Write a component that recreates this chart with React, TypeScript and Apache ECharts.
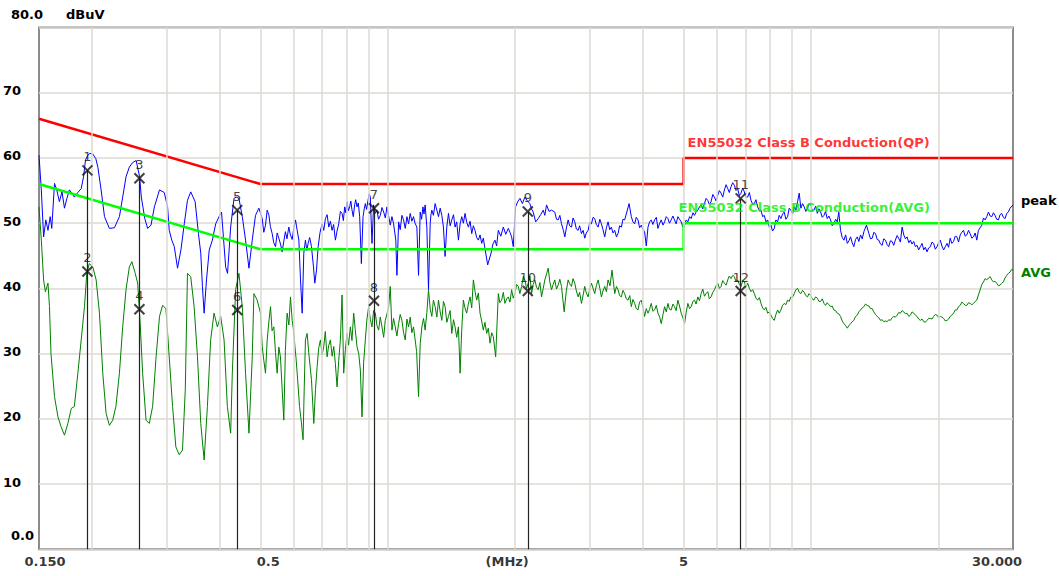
import React, { useEffect, useRef } from 'react';
import * as echarts from 'echarts';

const FONT = "'DejaVu Sans', 'Liberation Sans', sans-serif";

// ---- limit lines (EN55032 class B, conducted) ----
const QP_LIMIT: number[][] = [[0.15, 66], [0.5, 56], [5, 56], [5, 60], [30, 60]];
const AVG_LIMIT: number[][] = [[0.15, 56], [0.5, 46], [5, 46], [5, 50], [30, 50]];
const QP_LIMIT_NAME = 'EN55032 Class B Conduction(QP)';
const AVG_LIMIT_NAME = 'EN55032 Class B Conduction(AVG)';

// ---- measured traces [MHz, dBuV] ----
const PEAK_TRACE: number[][] = [
  [0.15, 60.4], [0.1519, 55.1], [0.1538, 47.9], [0.1557, 50.5], [0.1575, 48.9], [0.1594, 51.0],
  [0.1608, 49.2], [0.1632, 56.1], [0.1652, 55.1], [0.1676, 53.3], [0.17, 54.8], [0.1723, 52.3],
  [0.1746, 53.8], [0.1769, 55.1], [0.1795, 54.6], [0.1818, 54.0], [0.1853, 54.7], [0.1887, 55.3],
  [0.1911, 57.1], [0.1932, 59.7], [0.1956, 60.4], [0.1977, 60.7], [0.201, 60.6], [0.2043, 59.9],
  [0.2066, 58.6], [0.2103, 55.1], [0.2142, 51.0], [0.22, 49.2], [0.2261, 49.3], [0.2323, 51.0],
  [0.2365, 54.0], [0.2408, 57.1], [0.2452, 58.6], [0.2497, 59.3], [0.2545, 59.6], [0.2593, 57.1],
  [0.2617, 54.0], [0.2667, 50.7], [0.2709, 49.2], [0.2759, 49.7], [0.281, 52.5], [0.2889, 55.1],
  [0.2965, 54.7], [0.3019, 52.5], [0.3046, 48.9], [0.3089, 47.4], [0.3131, 46.4], [0.3187, 43.1],
  [0.3246, 45.9], [0.3306, 49.9], [0.3364, 53.5], [0.3424, 54.8], [0.3507, 53.3], [0.3571, 48.4],
  [0.3616, 45.4], [0.3649, 40.3], [0.3683, 36.2], [0.3731, 41.3], [0.3787, 45.9], [0.3852, 47.4],
  [0.3922, 49.9], [0.3994, 51.0], [0.4049, 51.7], [0.409, 47.9], [0.414, 43.3], [0.4183, 42.3],
  [0.4255, 49.4], [0.4333, 53.8], [0.4384, 54.0], [0.4451, 53.8], [0.4533, 51.0], [0.4614, 47.4],
  [0.47, 43.1], [0.4785, 47.4], [0.487, 51.2], [0.4961, 52.3],
  [0.5052, 50.7], [0.5095, 48.6], [0.5143, 49.7], [0.519, 52.0], [0.5239, 51.2], [0.528, 49.5],
  [0.5333, 48.4], [0.538, 47.0], [0.5431, 46.4], [0.548, 48.5], [0.5529, 47.7], [0.558, 46.8],
  [0.563, 45.6], [0.568, 47.2], [0.5731, 48.7], [0.578, 47.6], [0.5837, 49.4], [0.589, 48.2],
  [0.5946, 47.5], [0.6, 49.3], [0.6054, 50.5], [0.611, 48.9], [0.6166, 47.4], [0.6222, 41.3],
  [0.6278, 36.2], [0.6334, 45.4], [0.6391, 47.4], [0.644, 45.8], [0.6485, 46.9], [0.654, 47.8],
  [0.6604, 46.4], [0.6676, 43.3], [0.6725, 40.8], [0.6787, 42.8], [0.6848, 46.4], [0.692, 48.6],
  [0.6997, 49.9], [0.706, 48.9], [0.7124, 50.7], [0.719, 51.3], [0.7256, 49.4], [0.732, 50.3],
  [0.7387, 48.9], [0.745, 49.8], [0.7522, 47.4], [0.759, 48.8], [0.766, 49.9], [0.773, 51.8],
  [0.7799, 51.5], [0.7855, 50.4], [0.7912, 52.5], [0.796, 51.6], [0.8013, 53.3], [0.807, 51.9],
  [0.8131, 52.5], [0.818, 53.4], [0.8234, 52.0], [0.829, 51.0], [0.8353, 52.8], [0.84, 53.6],
  [0.846, 52.5], [0.852, 53.1], [0.8584, 51.0], [0.8663, 43.8], [0.8742, 51.0], [0.88, 52.2],
  [0.8851, 53.0], [0.891, 52.1], [0.8982, 53.5], [0.904, 54.5], [0.9096, 54.0], [0.9178, 46.9],
  [0.9261, 52.8], [0.934, 51.5], [0.9431, 52.0], [0.951, 50.6], [0.9604, 51.2], [0.969, 52.4],
  [0.9781, 51.7], [0.987, 50.8], [0.9957, 52.5], [1.004, 51.2], [1.0137, 49.7], [1.023, 51.0],
  [1.0323, 49.9], [1.0447, 47.4], [1.0512, 42.0], [1.0608, 50.2], [1.07, 49.0], [1.08, 51.2],
  [1.0897, 50.5], [1.1, 49.2], [1.11, 51.0], [1.1199, 49.9], [1.13, 51.5], [1.14, 50.3],
  [1.1505, 51.0], [1.16, 50.0], [1.1716, 49.4], [1.1823, 42.0], [1.193, 51.7], [1.202, 50.6],
  [1.2109, 52.5], [1.218, 51.4], [1.2256, 52.8], [1.2369, 49.4], [1.2482, 39.8], [1.2596, 49.9],
  [1.265, 51.3], [1.271, 52.0], [1.282, 51.2], [1.294, 53.0], [1.306, 52.0], [1.3179, 51.0],
  [1.33, 52.3], [1.3418, 51.2], [1.3539, 49.4], [1.3661, 44.9], [1.3787, 49.4], [1.3913, 51.5],
  [1.404, 49.6], [1.4166, 50.5], [1.43, 51.3], [1.4422, 49.4], [1.455, 50.2], [1.4688, 47.4],
  [1.4822, 49.9], [1.4956, 51.0], [1.509, 50.0], [1.5226, 51.5], [1.537, 50.1], [1.5507, 49.4],
  [1.565, 50.3], [1.579, 48.4], [1.593, 49.6], [1.6075, 48.9], [1.622, 47.8], [1.6372, 47.4],
  [1.652, 48.2], [1.667, 46.9], [1.682, 47.7], [1.6971, 46.1], [1.7222, 43.6], [1.7538, 45.4],
  [1.772, 46.8], [1.7917, 47.4], [1.808, 46.5], [1.8248, 48.9], [1.85, 48.0], [1.8749, 49.4],
  [1.9, 48.3], [1.9265, 49.2], [1.944, 48.6], [1.9617, 47.9], [1.9794, 46.4], [2.0044, 52.5],
  [2.028, 53.3], [2.0528, 53.8], [2.08, 53.0], [2.1085, 54.0], [2.137, 53.4], [2.1663, 53.0],
  [2.186, 52.2], [2.206, 51.7], [2.236, 50.2], [2.267, 50.7], [2.298, 51.3], [2.3296, 52.0],
  [2.35, 51.2], [2.372, 52.8], [2.405, 51.8], [2.4372, 52.0],
  [2.481, 51.7], [2.504, 50.6], [2.527, 50.5], [2.55, 51.2], [2.573, 49.9], [2.6, 48.9],
  [2.62, 47.9], [2.645, 49.4], [2.668, 50.5], [2.69, 49.6], [2.717, 49.4], [2.74, 50.8],
  [2.766, 50.2], [2.79, 49.1], [2.817, 48.9], [2.84, 49.6], [2.868, 48.4], [2.895, 48.9],
  [2.92, 47.7], [2.945, 48.5], [2.974, 48.9], [3.0, 50.1], [3.028, 49.9], [3.055, 50.9],
  [3.083, 50.7], [3.11, 49.8], [3.14, 49.4], [3.17, 50.6], [3.197, 49.9], [3.225, 49.0],
  [3.255, 47.9], [3.285, 49.3], [3.315, 50.2], [3.345, 49.0], [3.375, 49.4], [3.405, 48.5],
  [3.437, 48.9], [3.47, 47.9], [3.5, 48.4], [3.53, 49.6], [3.563, 49.4], [3.595, 50.6],
  [3.628, 50.5], [3.66, 51.4], [3.717, 53.0], [3.762, 51.0], [3.795, 50.2], [3.831, 49.9],
  [3.865, 50.9], [3.901, 50.5], [3.935, 49.3], [3.972, 49.7], [4.01, 49.0], [4.044, 48.7],
  [4.081, 46.5], [4.119, 49.4], [4.155, 50.2], [4.193, 50.5], [4.23, 49.8], [4.27, 50.5],
  [4.31, 50.9], [4.348, 49.2], [4.39, 50.0], [4.427, 50.5], [4.47, 49.7], [4.508, 50.2],
  [4.55, 51.0], [4.591, 50.7], [4.63, 50.0], [4.674, 50.5], [4.715, 51.1], [4.759, 50.5],
  [4.8, 49.9], [4.847, 51.0], [4.89, 50.6], [4.935, 50.2], [4.98, 49.4], [5.025, 49.7],
  [5.07, 50.5], [5.117, 50.2], [5.165, 51.0], [5.21, 50.7], [5.26, 51.6], [5.305, 51.2],
  [5.35, 51.7], [5.402, 52.0], [5.45, 52.5], [5.5, 52.8], [5.55, 52.2], [5.6, 53.0],
  [5.65, 53.8], [5.703, 53.5], [5.75, 52.9], [5.806, 53.3], [5.86, 54.4], [5.912, 54.0],
  [5.965, 53.4], [6.02, 54.3], [6.075, 55.0], [6.13, 54.6], [6.185, 54.0], [6.242, 55.1],
  [6.3, 55.9], [6.356, 55.3], [6.41, 54.7], [6.472, 55.6], [6.53, 56.2], [6.59, 55.8],
  [6.65, 55.0], [6.71, 55.3], [6.77, 54.2], [6.833, 54.6], [6.895, 55.4], [6.957, 54.8],
  [7.02, 54.0], [7.085, 54.0], [7.15, 54.7], [7.214, 53.5], [7.28, 52.9], [7.345, 53.0],
  [7.41, 53.6], [7.48, 52.5], [7.55, 51.9], [7.616, 52.0], [7.685, 51.0], [7.755, 51.2],
  [7.825, 50.2], [7.897, 50.5], [7.97, 49.4], [8.041, 49.7], [8.11, 48.8], [8.187, 49.2],
  [8.26, 50.5], [8.337, 50.2], [8.41, 51.2],
  [8.489, 50.7], [8.565, 51.4], [8.643, 51.7], [8.72, 50.6], [8.803, 51.0], [8.88, 52.3],
  [8.962, 52.0], [9.04, 51.4], [9.125, 52.5], [9.21, 52.0], [9.294, 53.3], [9.377, 54.6],
  [9.462, 52.3], [9.55, 53.0], [9.634, 52.5], [9.72, 51.8], [9.81, 52.3], [9.89, 53.0],
  [9.978, 52.8], [10.07, 51.9], [10.16, 52.0], [10.25, 52.6], [10.35, 51.5], [10.44, 52.2],
  [10.535, 51.7], [10.63, 50.9], [10.73, 51.2], [10.82, 51.8], [10.92, 50.7], [11.02, 51.1],
  [11.12, 50.5], [11.22, 49.6], [11.32, 49.9], [11.43, 50.6], [11.53, 50.2], [11.63, 51.7],
  [11.74, 48.9], [11.85, 47.8], [11.96, 47.4], [12.07, 48.2], [12.18, 46.9], [12.29, 47.3],
  [12.4, 47.9], [12.51, 47.0], [12.62, 46.4], [12.74, 47.5], [12.86, 47.9], [12.97, 47.2],
  [13.09, 48.2], [13.21, 47.6], [13.33, 48.7], [13.52, 49.7], [13.7, 48.4], [13.82, 47.6],
  [13.95, 47.7], [14.07, 48.6], [14.2, 48.4], [14.33, 47.5], [14.46, 47.4], [14.59, 46.8],
  [14.72, 46.6], [14.85, 47.6], [14.99, 47.4], [15.13, 46.7], [15.26, 46.4], [15.4, 47.3],
  [15.54, 47.2], [15.68, 46.6], [15.82, 47.4], [15.97, 48.1], [16.11, 47.7], [16.26, 47.1],
  [16.41, 49.4], [16.56, 48.2], [16.71, 47.6], [16.86, 47.9], [17.02, 47.0], [17.17, 47.4],
  [17.32, 46.8], [17.48, 47.2], [17.64, 46.4], [17.8, 46.6], [17.96, 45.9], [18.12, 46.4],
  [18.29, 46.9], [18.46, 45.9], [18.62, 46.3], [18.79, 45.6], [18.96, 46.2], [19.14, 46.4],
  [19.31, 47.1], [19.48, 46.9], [19.66, 46.0], [19.84, 46.4], [20.02, 47.0], [20.2, 47.4],
  [20.38, 46.5], [20.57, 45.9], [20.76, 46.4], [20.95, 46.9], [21.13, 46.3], [21.32, 47.7],
  [21.51, 46.9], [21.71, 47.2], [21.91, 48.0], [22.11, 47.9], [22.31, 47.1], [22.51, 48.2],
  [22.71, 48.6], [22.92, 48.9], [23.13, 48.0], [23.34, 48.2], [23.55, 48.9], [23.76, 48.4],
  [23.98, 47.7], [24.2, 47.9], [24.42, 48.5], [24.64, 47.4], [24.86, 48.9], [25.09, 49.3],
  [25.32, 49.7], [25.55, 50.8], [25.78, 50.5], [26.01, 51.0], [26.25, 51.7], [26.49, 51.1],
  [26.73, 51.0], [26.97, 51.6], [27.21, 51.2], [27.46, 50.6], [27.71, 50.5], [27.96, 51.3],
  [28.21, 51.5], [28.47, 50.9], [28.73, 50.7], [28.99, 51.5], [29.25, 51.7], [29.52, 52.3],
  [30, 52.8],
];

const AVG_TRACE: number[][] = [
  [0.15, 52.5], [0.1519, 47.4], [0.1538, 41.3], [0.1553, 39.5], [0.1575, 40.8], [0.1588, 37.2],
  [0.1601, 30.0], [0.1632, 23.4], [0.1663, 20.3], [0.1691, 18.8], [0.1723, 17.5], [0.1755, 19.3],
  [0.1788, 21.6], [0.1818, 21.9], [0.1853, 27.0], [0.1887, 32.1], [0.1921, 37.2], [0.1945, 42.3],
  [0.1972, 43.8], [0.201, 43.3], [0.2047, 41.3], [0.2084, 36.2], [0.2122, 27.0], [0.2161, 20.8],
  [0.22, 19.0], [0.224, 19.8], [0.2279, 21.9], [0.2323, 27.0], [0.2365, 34.1], [0.2408, 39.8],
  [0.2452, 43.3], [0.2486, 44.1], [0.2532, 42.3], [0.2566, 40.8], [0.2601, 34.6], [0.2636, 27.0],
  [0.2685, 19.8], [0.2733, 19.3], [0.2783, 21.9], [0.2836, 29.5], [0.2889, 35.7], [0.2938, 37.4],
  [0.2992, 36.9], [0.3046, 29.5], [0.3102, 21.9], [0.3158, 15.7], [0.3216, 14.5], [0.3274, 15.2],
  [0.3324, 24.4], [0.3364, 42.3], [0.3424, 41.8], [0.3488, 37.2], [0.3552, 29.5], [0.3616, 19.3],
  [0.3683, 13.7], [0.3749, 21.9], [0.3816, 32.1], [0.3887, 36.2], [0.3958, 34.1], [0.403, 35.7],
  [0.4105, 32.1], [0.4179, 21.9], [0.4255, 17.8], [0.4293, 27.0], [0.4371, 39.8], [0.4451, 42.3],
  [0.4533, 37.2], [0.4614, 27.0], [0.47, 17.8], [0.4785, 29.5], [0.4828, 39.2], [0.4916, 38.2],
  [0.5005, 36.2], [0.5052, 31.1], [0.5095, 29.0], [0.5143, 27.0], [0.519, 32.1], [0.524, 35.0],
  [0.5285, 37.2], [0.533, 33.5], [0.5382, 34.1], [0.543, 30.2], [0.5479, 27.0], [0.553, 31.0],
  [0.5578, 29.5], [0.563, 24.6], [0.5681, 19.8], [0.573, 30.5], [0.5784, 36.2], [0.584, 34.4],
  [0.5891, 38.7], [0.5946, 35.1], [0.599, 33.6], [0.6036, 31.1], [0.607, 29.4], [0.611, 27.0],
  [0.6189, 21.9], [0.625, 19.5], [0.6308, 16.8], [0.635, 25.0], [0.6391, 32.1], [0.645, 33.1],
  [0.6509, 30.0], [0.655, 28.3], [0.6604, 26.0], [0.6688, 19.3], [0.675, 24.5], [0.681, 28.0],
  [0.687, 30.9], [0.6934, 32.1], [0.6997, 29.8], [0.706, 31.1], [0.712, 33.4], [0.7189, 29.5],
  [0.725, 31.2], [0.732, 32.1], [0.739, 29.6], [0.7454, 31.1], [0.752, 28.5], [0.759, 24.9],
  [0.766, 29.0], [0.7728, 32.1], [0.7799, 39.0], [0.7869, 27.0], [0.794, 30.6], [0.8013, 33.1],
  [0.808, 31.3], [0.816, 34.1], [0.823, 32.0], [0.8309, 36.2], [0.838, 33.7], [0.846, 31.1],
  [0.854, 30.0], [0.8615, 27.5], [0.8693, 20.3], [0.877, 28.6], [0.8851, 32.1], [0.893, 35.3],
  [0.9014, 37.2], [0.91, 35.2], [0.9178, 34.1], [0.926, 36.6], [0.9345, 36.2], [0.943, 34.3],
  [0.9517, 33.6], [0.96, 35.6], [0.969, 34.1], [0.978, 32.5], [0.9866, 35.1], [0.996, 36.1],
  [1.0049, 37.2], [1.0137, 40.3], [1.023, 33.6], [1.032, 35.4], [1.0416, 34.1], [1.051, 32.7],
  [1.0608, 34.6], [1.07, 36.0], [1.08, 35.1], [1.09, 33.2], [1.0997, 32.1], [1.11, 35.3],
  [1.1199, 34.1], [1.13, 35.6], [1.14, 33.2], [1.1505, 34.1], [1.1609, 32.1], [1.17, 30.3],
  [1.1823, 23.4], [1.193, 31.5], [1.2038, 34.1], [1.215, 35.4], [1.2256, 33.6], [1.237, 36.3],
  [1.2482, 39.8], [1.26, 36.8], [1.271, 35.7], [1.282, 38.2], [1.294, 37.2], [1.306, 35.6],
  [1.3179, 38.2], [1.33, 36.4], [1.3418, 35.1], [1.354, 38.0], [1.3661, 37.2], [1.379, 34.8],
  [1.3913, 35.7], [1.404, 36.6], [1.4166, 33.1], [1.43, 35.2], [1.4422, 34.1], [1.455, 32.5],
  [1.4688, 34.1], [1.4822, 27.0], [1.495, 33.5], [1.5088, 38.2], [1.522, 37.0], [1.5367, 36.2],
  [1.55, 37.6], [1.5647, 38.7], [1.579, 37.0], [1.5932, 41.3], [1.608, 39.5], [1.6224, 38.2],
  [1.637, 39.3], [1.6521, 36.2], [1.667, 35.0], [1.6818, 33.6], [1.697, 34.8], [1.7129, 33.1],
  [1.728, 33.9], [1.7443, 31.6], [1.76, 33.2], [1.7759, 32.6], [1.7986, 29.5], [1.8248, 39.2],
  [1.84, 37.8], [1.8581, 38.2], [1.875, 39.4], [1.8917, 37.7], [1.91, 38.4], [1.9265, 38.7],
  [1.944, 37.9], [1.9617, 39.8], [1.979, 38.5], [1.9971, 39.2], [2.015, 40.6], [2.034, 40.3],
  [2.052, 39.2], [2.0711, 40.3], [2.09, 41.8], [2.1085, 41.3], [2.128, 40.0], [2.1474, 40.8],
  [2.167, 41.9], [2.1866, 39.2], [2.206, 40.6], [2.226, 41.3], [2.246, 40.2], [2.267, 39.8],
  [2.288, 40.9], [2.3085, 38.7], [2.33, 40.0], [2.35, 41.3], [2.372, 42.2], [2.394, 43.1],
  [2.415, 41.0], [2.4372, 39.8], [2.459, 40.6], [2.481, 41.3], [2.504, 39.9], [2.527, 40.5],
  [2.55, 41.4], [2.573, 40.3], [2.611, 36.4], [2.64, 39.5], [2.668, 41.3], [2.69, 40.7],
  [2.717, 40.3], [2.74, 41.5], [2.766, 40.8], [2.79, 39.6], [2.817, 38.7], [2.84, 39.4],
  [2.868, 37.7], [2.895, 39.0], [2.92, 40.3], [2.945, 39.3], [2.974, 38.7], [3.0, 39.9],
  [3.028, 40.8], [3.055, 40.0], [3.083, 39.2], [3.11, 40.4], [3.14, 41.3], [3.17, 40.0],
  [3.197, 38.7], [3.225, 39.6], [3.255, 40.3], [3.285, 39.5], [3.315, 41.3], [3.35, 40.4],
  [3.387, 42.8], [3.437, 39.2], [3.47, 40.3], [3.5, 39.8], [3.53, 38.9], [3.563, 38.7],
  [3.595, 39.7], [3.628, 39.2], [3.66, 38.4], [3.695, 38.2], [3.73, 38.9], [3.762, 37.2],
  [3.795, 38.3], [3.831, 37.7], [3.865, 36.9], [3.901, 36.7], [3.935, 37.9], [3.972, 38.2],
  [4.01, 37.0], [4.044, 35.7], [4.08, 36.9], [4.119, 36.2], [4.155, 36.8], [4.193, 37.7],
  [4.23, 36.5], [4.27, 36.7], [4.31, 37.4], [4.348, 36.2], [4.39, 35.6], [4.427, 34.6],
  [4.47, 36.0], [4.508, 37.2], [4.55, 36.4], [4.591, 37.7], [4.63, 36.8], [4.674, 36.7],
  [4.715, 37.6], [4.759, 37.2], [4.8, 36.6], [4.847, 38.2], [4.89, 37.3], [4.935, 36.2],
  [4.98, 35.5], [5.025, 34.6], [5.07, 36.3], [5.117, 37.7], [5.165, 36.9], [5.21, 37.2],
  [5.26, 38.0], [5.305, 38.2], [5.35, 37.6], [5.402, 38.7], [5.45, 38.1], [5.5, 39.2],
  [5.55, 39.9], [5.6, 38.8], [5.65, 39.2], [5.703, 39.5], [5.75, 38.4], [5.806, 38.7],
  [5.86, 39.4], [5.912, 39.8], [5.965, 40.4], [6.02, 40.8], [6.075, 40.0], [6.13, 40.3],
  [6.185, 41.2], [6.242, 40.8], [6.3, 40.5], [6.356, 41.3], [6.41, 41.9], [6.472, 41.5],
  [6.53, 42.0], [6.59, 41.8], [6.65, 41.0], [6.71, 41.3], [6.77, 40.6], [6.833, 40.3],
  [6.895, 41.2], [6.957, 41.0], [7.02, 40.2], [7.085, 40.8], [7.15, 40.0], [7.214, 39.5],
  [7.28, 39.8], [7.345, 39.2], [7.41, 38.5], [7.48, 38.2], [7.55, 38.6], [7.616, 37.7],
  [7.685, 37.0], [7.755, 36.7], [7.825, 37.1], [7.897, 36.2], [7.97, 36.4], [8.041, 35.9],
  [8.11, 35.4], [8.187, 35.1], [8.26, 36.0], [8.337, 36.7], [8.41, 36.2], [8.489, 36.7],
  [8.565, 37.4], [8.643, 37.7], [8.72, 37.5], [8.803, 38.2], [8.88, 38.0], [8.962, 38.7],
  [9.04, 38.6], [9.125, 39.2], [9.21, 39.8], [9.294, 40.0], [9.377, 39.4], [9.462, 39.2],
  [9.55, 39.7], [9.634, 39.4], [9.72, 38.9], [9.81, 38.7], [9.89, 39.2], [9.978, 38.9],
  [10.07, 38.4], [10.16, 38.2], [10.25, 38.7], [10.35, 38.5], [10.44, 38.0], [10.535, 38.0],
  [10.63, 38.4], [10.73, 37.7], [10.82, 37.4], [10.92, 37.8], [11.02, 37.5], [11.12, 37.2],
  [11.22, 37.3], [11.32, 36.7], [11.43, 36.6], [11.53, 36.2], [11.63, 36.1], [11.74, 35.7],
  [11.85, 35.0], [11.96, 34.6], [12.07, 34.3], [12.18, 33.9], [12.29, 34.3], [12.4, 34.6],
  [12.51, 34.9], [12.62, 35.1], [12.74, 35.7], [12.86, 35.9], [12.97, 36.4], [13.09, 36.7],
  [13.21, 37.0], [13.33, 37.2], [13.45, 37.6], [13.57, 37.4], [13.7, 37.3], [13.82, 36.9],
  [13.95, 36.9], [14.07, 36.4], [14.2, 36.0], [14.33, 35.7], [14.46, 35.5], [14.59, 35.1],
  [14.72, 35.2], [14.85, 34.9], [14.99, 35.0], [15.13, 34.9], [15.26, 35.2], [15.4, 35.1],
  [15.54, 35.5], [15.68, 35.7], [15.82, 35.6], [15.97, 35.9], [16.11, 36.3], [16.26, 36.2],
  [16.41, 36.6], [16.56, 36.4], [16.71, 36.1], [16.86, 36.2], [17.02, 35.7], [17.17, 35.9],
  [17.32, 36.4], [17.48, 36.2], [17.64, 35.9], [17.8, 35.7], [17.96, 35.3], [18.12, 35.1],
  [18.29, 35.3], [18.46, 34.9], [18.62, 34.8], [18.79, 35.1], [18.96, 35.4], [19.14, 35.4],
  [19.31, 35.3], [19.48, 35.7], [19.66, 36.0], [19.84, 35.9], [20.02, 35.5], [20.2, 35.7],
  [20.38, 35.6], [20.57, 35.4], [20.76, 35.0], [20.95, 35.1], [21.13, 35.3], [21.32, 35.7],
  [21.51, 35.9], [21.71, 36.2], [21.91, 36.7], [22.11, 36.7], [22.31, 37.2], [22.51, 37.4],
  [22.71, 37.9], [22.92, 37.7], [23.13, 37.4], [23.34, 37.4], [23.55, 37.8], [23.76, 37.7],
  [23.98, 37.5], [24.2, 37.7], [24.42, 38.0], [24.64, 38.2], [24.86, 39.0], [25.09, 39.8],
  [25.32, 40.6], [25.55, 41.0], [25.78, 41.5], [26.01, 41.3], [26.25, 41.6], [26.49, 41.8],
  [26.73, 41.3], [26.97, 41.0], [27.21, 41.1], [27.46, 40.8], [27.71, 40.4], [27.96, 40.5],
  [28.21, 40.8], [28.47, 41.0], [28.73, 41.6], [28.99, 42.0], [29.25, 42.3], [29.52, 42.5],
  [29.76, 42.9], [30, 42.8],
];

// ---- markers ----
const MARKER_IDS = ['1', '2', '3', '4', '5', '6', '7', '8', '9', '10', '11', '12'];
const MARKER_FREQS = [0.1952, 0.1952, 0.259, 0.259, 0.441, 0.441, 0.928, 0.928, 2.142, 2.142, 6.82, 6.82];
const MARKER_LEVELS = [58.1, 42.6, 56.9, 36.8, 52.0, 36.7, 52.3, 38.1, 51.8, 39.6, 53.8, 39.6];

// ---- axes ----
const X_TICK_VALUES = [0.15, 0.5, 2, 5, 30];
const X_TICK_LABELS = ['0.150', '0.5', '(MHz)', '5', '30.000'];
const Y_TICK_VALUES = [0, 10, 20, 30, 40, 50, 60, 70, 80];
const Y_TICK_LABELS = ['0.0', '10', '20', '30', '40', '50', '60', '70', '80.0'];
const Y_UNIT = 'dBuV';
const GRID_FREQS = [0.2, 0.3, 0.4, 0.5, 0.6, 0.7, 0.8, 0.9, 1, 2, 3, 4, 5, 6, 7, 8, 9, 10, 20];
const PEAK_NAME = 'peak';
const AVG_NAME = 'AVG';

export default function App() {
  const ref = useRef<HTMLDivElement>(null);

  useEffect(() => {
    if (!ref.current) return;
    const chart = echarts.init(ref.current, undefined, { renderer: 'svg' });
    const gridColor = '#dedad3';
    const boldText = { fontFamily: FONT, fontWeight: 'bold' as const, fontSize: 13, color: '#000' };
    const xNudge = [6, 8, -8, 0, -16];

    const markerLines = MARKER_FREQS.filter((_, i) => i % 2 === 0).map((f, k) => [
      { coord: [f, MARKER_LEVELS[2 * k]] },
      { coord: [f, 0] },
    ]);

    chart.setOption({
      animation: false,
      backgroundColor: '#ffffff',
      grid: {
        left: 36, right: 46, top: 27.5, bottom: 26.7,
        show: true, borderColor: '#8c8c8c', borderWidth: 2, backgroundColor: '#ffffff',
        containLabel: false,
      },
      xAxis: {
        type: 'log', logBase: 10, min: 0.15, max: 30,
        axisLine: { show: false }, axisTick: { show: false },
        axisLabel: { show: false }, splitLine: { show: false }, minorSplitLine: { show: false },
      },
      yAxis: {
        type: 'value', min: 0, max: 80, interval: 10,
        axisLine: { show: false }, axisTick: { show: false },
        splitLine: { lineStyle: { color: gridColor, width: 1.5 } },
        axisLabel: {
          align: 'left', margin: 36, ...boldText,
          formatter: (v: number) => {
            const t = Y_TICK_LABELS[Y_TICK_VALUES.indexOf(v)];
            if (v === 80) return `{top|${t}}{unit|${Y_UNIT}}`;
            if (v === 0) return `{bot|${t}}`;
            return `{mid|${t}}`;
          },
          rich: {
            top: { ...boldText, padding: [0, 0, 27, 8] },
            unit: { ...boldText, padding: [0, 0, 27, 23] },
            bot: { ...boldText, padding: [0, 0, 28, 8] },
            mid: { ...boldText, padding: [0, 0, 4, 0] },
          },
        },
      },
      series: [
        {
          type: 'scatter', name: 'xticks', silent: true, z: 1, clip: false,
          symbolSize: 1, itemStyle: { color: 'rgba(0,0,0,0)' },
          data: X_TICK_VALUES.map((v, i) => ({
            value: [v, 0],
            label: { formatter: X_TICK_LABELS[i], offset: [xNudge[i], 0] },
          })),
          label: { show: true, position: 'bottom', distance: 5, ...boldText },
          markLine: {
            silent: true, symbol: ['none', 'none'], label: { show: false },
            lineStyle: { color: gridColor, width: 1.5, type: 'solid' },
            data: GRID_FREQS.map((f) => ({ xAxis: f })),
          },
        },
        {
          type: 'line', name: PEAK_NAME, data: PEAK_TRACE, z: 3, silent: true,
          showSymbol: false, symbol: 'none',
          lineStyle: { color: '#0000ff', width: 1 },
          endLabel: { show: true, formatter: PEAK_NAME, ...boldText, offset: [0, -4] },
        },
        {
          type: 'line', name: AVG_NAME, data: AVG_TRACE, z: 3, silent: true,
          showSymbol: false, symbol: 'none',
          lineStyle: { color: '#008000', width: 1 },
          endLabel: { show: true, formatter: AVG_NAME, ...boldText, color: '#008000', offset: [0, 2] },
        },
        {
          type: 'line', name: QP_LIMIT_NAME, z: 4, silent: true,
          showSymbol: false, symbol: 'none',
          lineStyle: { color: '#ff0000', width: 2.5 },
          data: QP_LIMIT,
        },
        {
          type: 'line', name: AVG_LIMIT_NAME, z: 4, silent: true,
          showSymbol: false, symbol: 'none',
          lineStyle: { color: '#00ff00', width: 2.5 },
          data: AVG_LIMIT,
        },
        {
          type: 'scatter', name: 'limitLabels', z: 6, silent: true, clip: false,
          symbolSize: 1, itemStyle: { color: 'rgba(0,0,0,0)' },
          label: { show: true, position: 'top', align: 'left', ...boldText },
          data: [
            { value: QP_LIMIT[3], label: { formatter: QP_LIMIT_NAME, color: '#ff0000', distance: 8, offset: [4, 0] } },
            { value: AVG_LIMIT[3], label: { formatter: AVG_LIMIT_NAME, color: '#00ee00', distance: 9, offset: [-5, 0] } },
          ],
        },
        {
          type: 'scatter', name: 'markers', z: 5, silent: true, clip: false,
          symbol: 'path://M0,0L10,10M10,0L0,10', symbolSize: 10,
          itemStyle: { color: 'rgba(0,0,0,0)', borderColor: '#111111', borderWidth: 2 },
          label: { show: true, position: 'top', distance: 1, fontFamily: FONT, fontSize: 13, color: '#111111' },
          data: MARKER_FREQS.map((f, i) => ({ value: [f, MARKER_LEVELS[i]], label: { formatter: MARKER_IDS[i] } })),
          markLine: {
            silent: true, symbol: ['none', 'none'], label: { show: false },
            lineStyle: { color: '#222222', width: 1.2, type: 'solid' },
            data: markerLines,
          },
        },
      ],
    });

    return () => chart.dispose();
  }, []);

  return (
    <div
      ref={ref}
      style={{ position: 'fixed', left: 0, top: 0, width: 1059, height: 576, background: '#fff' }}
    />
  );
}
